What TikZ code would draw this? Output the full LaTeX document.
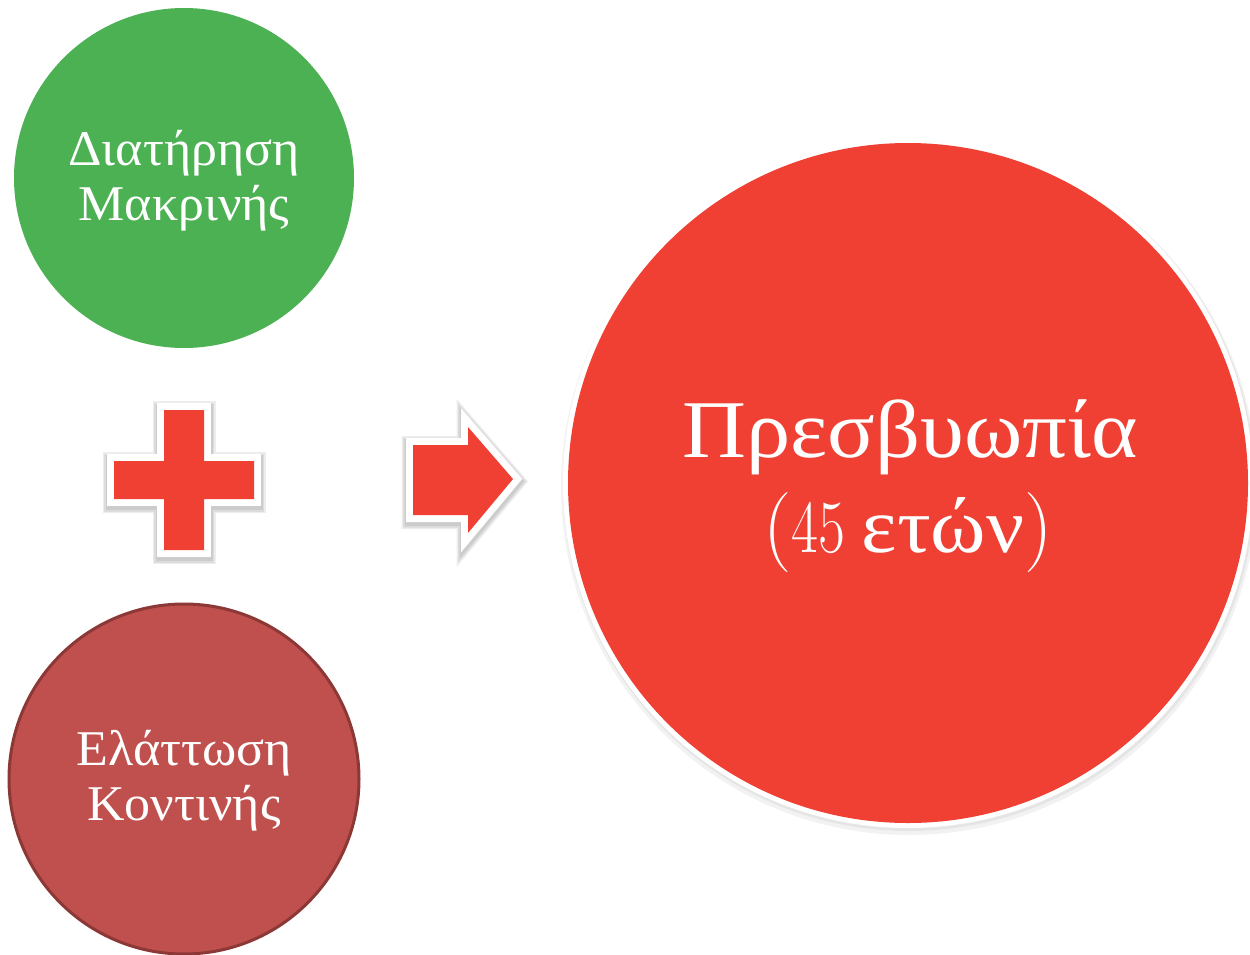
\documentclass[tikz,border=0pt]{standalone}
\usepackage{fontspec}
\usepackage{graphicx}
\newfontfamily\grk[FakeStretch=1.04]{Liberation Serif}
\newfontfamily\grkw[FakeStretch=1.08]{Liberation Serif}
\definecolor{cgreen}{RGB}{76,177,83}
\definecolor{cbrown}{RGB}{192,80,77}
\definecolor{cbrownline}{RGB}{140,56,54}
\definecolor{cred}{RGB}{239,64,51}
\tikzset{
  shadowlayer/.style={preaction={draw=black, fill=black, line width=#1, line join=miter,
               opacity=0.07, transform canvas={yshift=-2.5pt}}},
  redshape/.style={fill=cred, line join=miter,
    shadowlayer=23pt, shadowlayer=20pt, shadowlayer=17pt,
    preaction={draw=white, fill=white, line width=14pt, line join=miter}},
  smalltxt/.style={text=white, inner sep=0pt, anchor=base, font=\grk\fontsize{50}{55}\selectfont},
  bigtxt/.style={text=white, inner sep=0pt, anchor=base, font=\grkw\fontsize{82}{95}\selectfont},
}
\begin{document}
\begin{tikzpicture}[x=1pt,y=-1pt]
\useasboundingbox (0,0) rectangle (1250,954);
\clip (0,0) rectangle (1250,954);
\fill[white] (0,0) rectangle (1250,954);

% green circle
\node[circle, fill=cgreen, minimum size=340pt, inner sep=0pt] (far) at (184,178) {};
\node[smalltxt] (fartxta) at (184,165) {Διατήρηση};
\node[smalltxt] (fartxtb) at (184,220) {Μακρινής};

% brown circle
\node[circle, fill=cbrown, draw=cbrownline, line width=3pt, minimum size=350pt, inner sep=0pt] (near) at (184,779) {};
\node[smalltxt] (neartxta) at (184,765) {Ελάττωση};
\node[smalltxt] (neartxtb) at (184,820) {Κοντινής};

% plus sign
\path[redshape] (164,410) -- (204,410) -- (204,461) -- (254,461) -- (254,499) -- (204,499) -- (204,550) -- (164,550) -- (164,499) -- (114,499) -- (114,461) -- (164,461) -- cycle;

% arrow
\path[redshape] (413,445) -- (468,445) -- (468,427) -- (513,479) -- (468,533) -- (468,515) -- (413,515) -- cycle;

% big circle
\fill[black, opacity=0.05] (909,487) circle[radius=348pt];
\fill[black, opacity=0.05] (909,485) circle[radius=346pt];
\node[circle, fill=cred, minimum size=680pt, inner sep=0pt,
      preaction={draw=white, fill=white, line width=10pt}] (presb) at (908,483) {};
\node[bigtxt] (presbtxta) at (910,457) {Πρεσβυωπία};
\node[bigtxt] (presbtxtb) at (908,552) {{\fontsize{80}{95}\selectfont\normalfont(\fontsize{75}{95}\selectfont\addfontfeatures{FakeBold=1.5}\scalebox{0.78}[1]{45}}\hspace{0.2em}{\fontsize{78}{95}\selectfont ετών}{\fontsize{80}{95}\selectfont\normalfont)}};
\end{tikzpicture}
\end{document}
